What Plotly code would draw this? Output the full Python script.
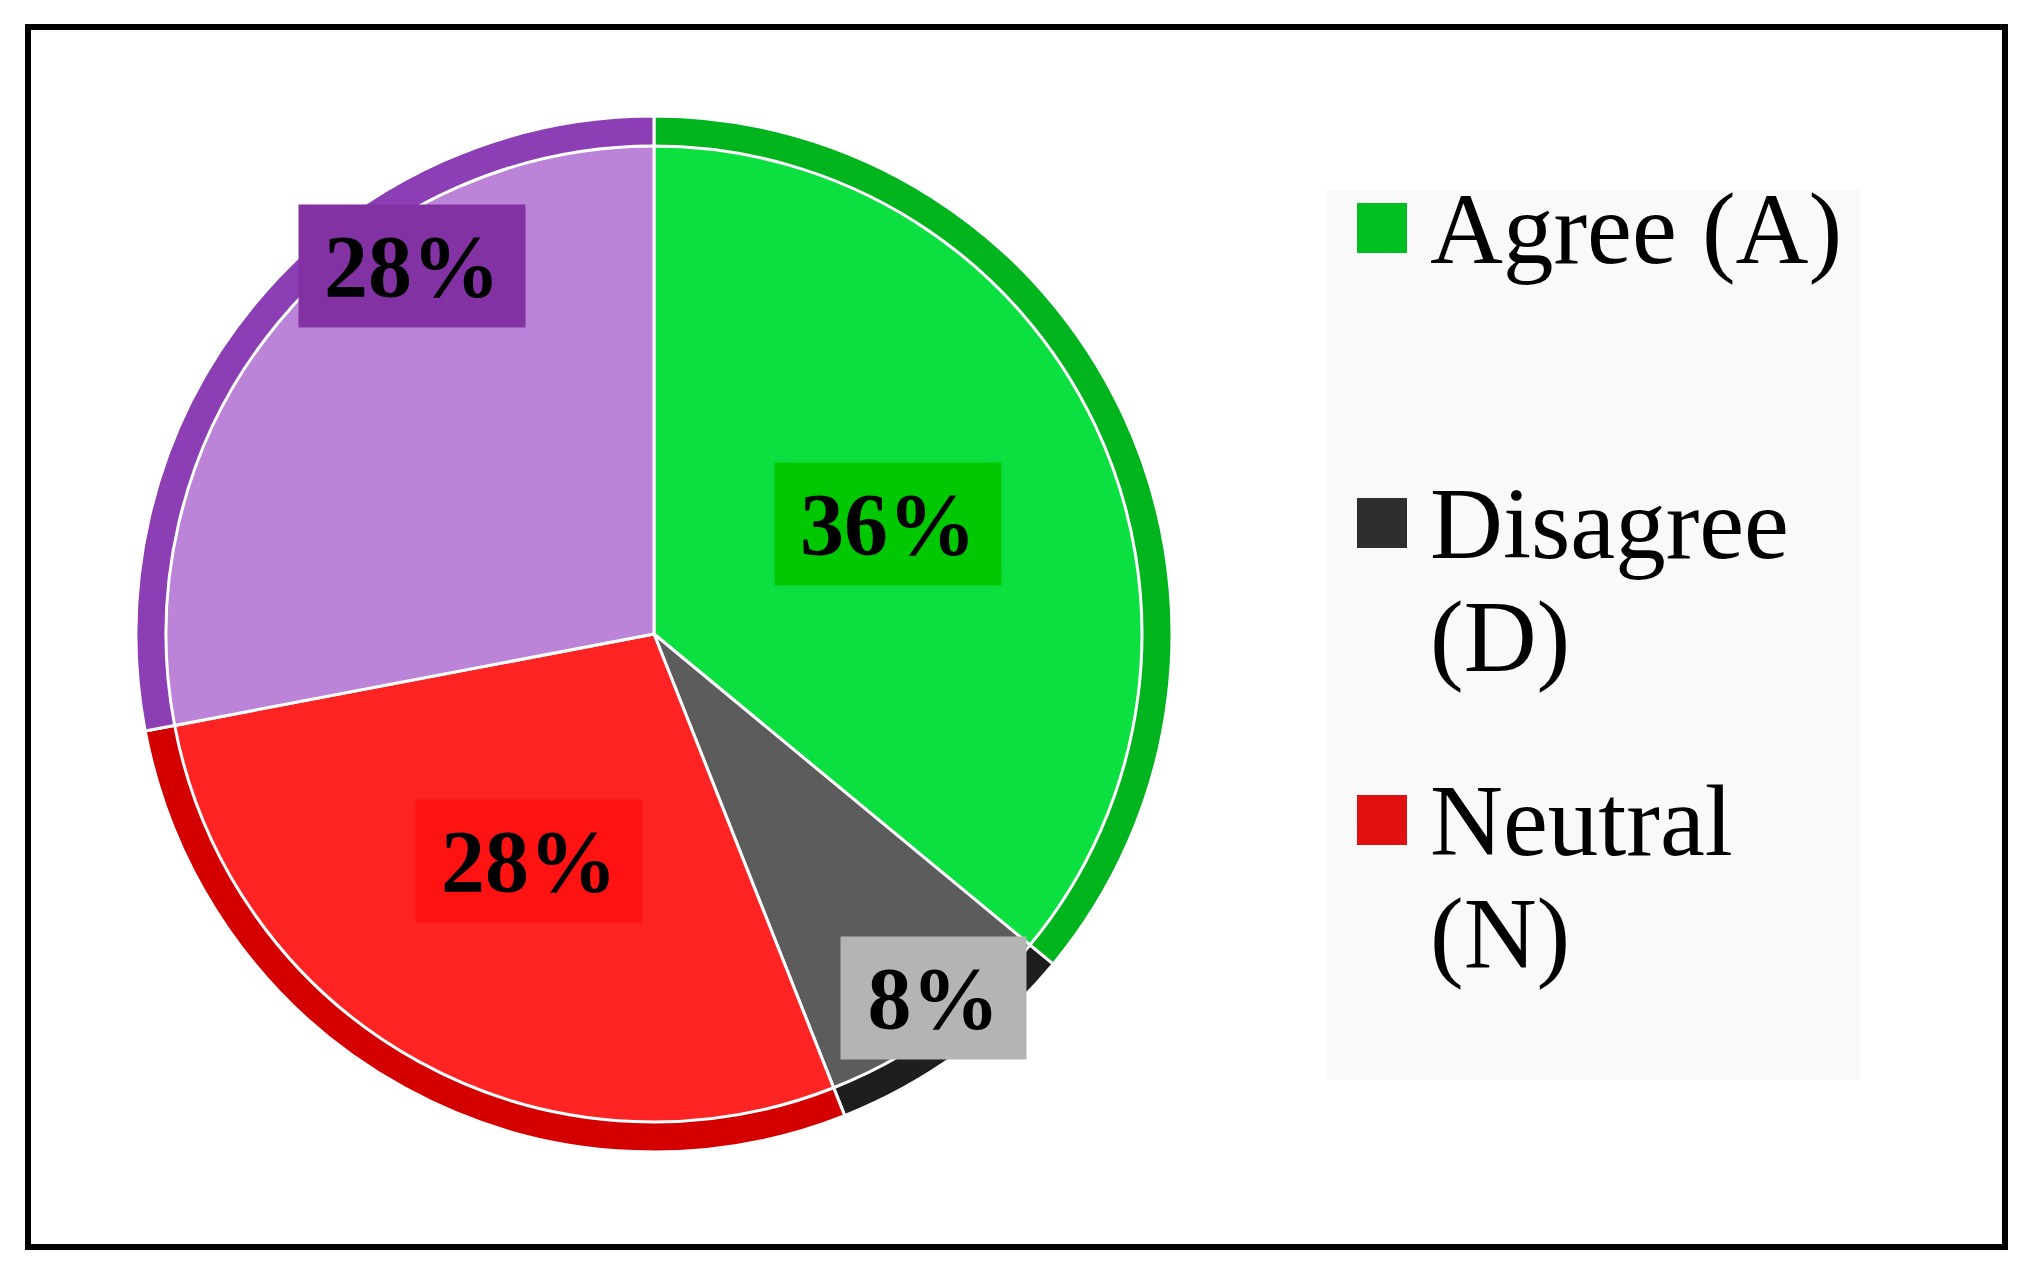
"""Survey response pie chart with boxed percentage labels"""
import math
import plotly.graph_objects as go

# data
labels = ['Agree (A)', 'Disagree (D)', 'Neutral (N)', 'Other']
values = [36, 8, 28, 28]
legend_lines = [['Agree (A)'], ['Disagree', '(D)'], ['Neutral', '(N)']]

# styles
slice_colors = ['#0ce040', '#5c5c5c', '#ff2424', '#bc84d8']
rim_colors = ['#00b41e', '#1e1e1e', '#d40000', '#8c3eb4']
box_colors = ['#00c800', '#b4b4b4', '#ff1212', '#8232a2']
legend_colors = ['#00c020', '#2e2e2e', '#e01010']
label_radius = [0.50, 0.885, 0.50, 0.85]
label_shift = [0, -1.5, 0, 17]

# page has an 8px body margin, so the figure is a bit smaller than the window
OFF = 8
W, H = 2033 - 2 * OFF, 1279 - 2 * OFF
FONT = 'Liberation Serif'

# pie geometry in window pixels
cx, cy, R = 654, 634, 518
rim = 30


def px(x):
    return (x - OFF) / W


def py(y):
    return 1 - (y - OFF) / H


def dom(r):
    return dict(x=[px(cx - r), px(cx + r)], y=[py(cy + r), py(cy - r)])


data = list()

# outer rim (bevel effect)
data.append(go.Pie(
    labels=labels, values=values, sort=False, direction='clockwise',
    rotation=0, domain=dom(R), textinfo='none', showlegend=False,
    marker=dict(colors=rim_colors, line=dict(color='white', width=3)),
    hoverinfo='skip'
))

# main slices
data.append(go.Pie(
    labels=labels, values=values, sort=False, direction='clockwise',
    rotation=0, domain=dom(R - rim), textinfo='none', showlegend=False,
    marker=dict(colors=slice_colors, line=dict(color='white', width=3)),
    hoverinfo='label+percent'
))

annotations = list()
shapes = list()

# percentage labels placed along each slice's mid angle
total = float(sum(values))
start = 0.0
for i, v in enumerate(values):
    mid = start + 360.0 * v / total / 2 + label_shift[i]
    start += 360.0 * v / total
    r = R * label_radius[i]
    lx = cx + r * math.sin(math.radians(mid))
    ly = cy - r * math.cos(math.radians(mid))
    txt = '%d%%' % round(100 * v / total)
    annotations.append(dict(
        x=px(lx), y=py(ly), xref='paper', yref='paper',
        text='<b>' + txt + '</b>', showarrow=False,
        font=dict(family=FONT, size=88, color='black'),
        bgcolor=box_colors[i],
        width=224 if len(txt) > 2 else 183, height=120,
        xanchor='center', yanchor='middle'
    ))

# legend background
shapes.append(dict(
    type='rect', xref='paper', yref='paper',
    x0=px(1326), x1=px(1860), y0=py(1080), y1=py(190),
    fillcolor='#f9f9f9', line=dict(width=0), layer='below'
))

# legend entries
row_top = [203, 498, 795]
for i, lines in enumerate(legend_lines):
    top = row_top[i]
    shapes.append(dict(
        type='rect', xref='paper', yref='paper',
        x0=px(1357), x1=px(1407), y0=py(top + 50), y1=py(top),
        fillcolor=legend_colors[i], line=dict(width=0)
    ))
    for j, line in enumerate(lines):
        baseline = top + 56 + j * 113
        annotations.append(dict(
            x=px(1428), y=py(baseline - 30), xref='paper', yref='paper',
            text=line, showarrow=False, xanchor='left', yanchor='middle',
            font=dict(family=FONT, size=101, color='black')
        ))

# outer frame
shapes.append(dict(
    type='rect', xref='paper', yref='paper',
    x0=px(28), x1=px(2005), y0=py(1247), y1=py(27),
    line=dict(color='black', width=6)
))

layout = go.Layout(
    width=W, height=H,
    margin=dict(l=0, r=0, t=0, b=0),
    paper_bgcolor='white', plot_bgcolor='white',
    showlegend=False,
    annotations=annotations,
    shapes=shapes
)

fig = go.Figure(data=data, layout=layout)
fig.write_html("out.html")
